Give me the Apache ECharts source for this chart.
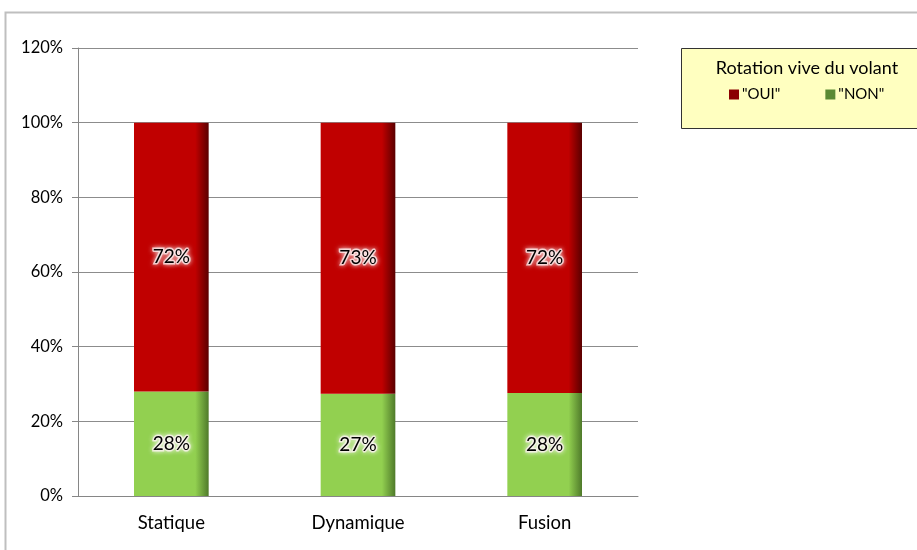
<!DOCTYPE html>
<html>
<head>
<meta charset="utf-8">
<script src="https://cdn.jsdelivr.net/npm/echarts@6/dist/echarts.min.js"></script>
<style>html,body{margin:0;padding:0;background:#fff;}#c{width:917px;height:550px;}</style>
</head>
<body>
<div id="c"></div>
<script>
var categories = ['Statique', 'Dynamique', 'Fusion'];
var nonValues = [28.0, 27.4, 27.6];
var ouiValues = [72.0, 72.6, 72.4];
var yTicks = [0, 20, 40, 60, 80, 100, 120];
var legendTitle = 'Rotation vive du volant';

var FONT = 'Lato';
function grad(c, d) {
  return new echarts.graphic.LinearGradient(0, 0, 1, 0, [
    {offset: 0, color: c}, {offset: 0.82, color: c}, {offset: 1, color: d}
  ]);
}
var labelStyle = {
  show: true, position: 'inside', fontFamily: FONT, fontSize: 19, color: '#000',
  textBorderColor: 'rgba(255,240,240,0.75)', textBorderWidth: 3,
  textShadowColor: 'rgba(255,255,255,0.9)', textShadowBlur: 5,
  formatter: function (p) { return Math.round(p.value) + '%'; }
};
var chart = echarts.init(document.getElementById('c'));
chart.setOption({
  animation: false,
  backgroundColor: '#fff',
  graphic: [
    {type: 'rect', shape: {x: 5.5, y: 12.5, width: 930, height: 560}, style: {fill: 'none', stroke: '#BFBFBF', lineWidth: 2}, z: -10},
    {type: 'rect', shape: {x: 681.5, y: 48.5, width: 250, height: 80}, style: {fill: '#FFFFC0', stroke: '#333', lineWidth: 1}, z: -5}
  ],
  title: {
    text: legendTitle, left: 802, top: 54, textAlign: 'center',
    textStyle: {fontFamily: FONT, fontSize: 18, fontWeight: 'normal', color: '#000'}
  },
  legend: {
    left: 724, top: 82, itemWidth: 10, itemHeight: 10, itemGap: 45, icon: 'rect',
    textStyle: {fontFamily: FONT, fontSize: 15, color: '#000', padding: [0, 0, 0, -2]},
    data: [
      {name: '"OUI"', itemStyle: {color: '#8B0000'}},
      {name: '"NON"', itemStyle: {color: '#5A8A34'}}
    ]
  },
  grid: {left: 78, right: 279, top: 48, bottom: 54},
  xAxis: {
    type: 'category', data: categories,
    axisLine: {lineStyle: {color: '#868686'}},
    axisTick: {length: 6, lineStyle: {color: '#868686'}},
    axisLabel: {fontFamily: FONT, fontSize: 18.5, color: '#000', margin: 18}
  },
  yAxis: {
    type: 'value', min: yTicks[0], max: yTicks[yTicks.length - 1], interval: 20,
    axisLine: {show: true, lineStyle: {color: '#868686'}},
    axisTick: {show: true, length: 6, lineStyle: {color: '#868686'}},
    axisLabel: {fontFamily: FONT, fontSize: 16.5, color: '#000', margin: 15, formatter: '{value}%'},
    splitLine: {lineStyle: {color: '#8C8C8C'}}
  },
  series: [
    {name: '"NON"', type: 'bar', stack: 'a', barWidth: '40%', data: nonValues,
     itemStyle: {color: grad('#92D050', '#4F7A2A')}, label: labelStyle},
    {name: '"OUI"', type: 'bar', stack: 'a', barWidth: '40%', data: ouiValues,
     itemStyle: {color: grad('#C00000', '#5A0000')}, label: labelStyle}
  ]
});
</script>
</body>
</html>
